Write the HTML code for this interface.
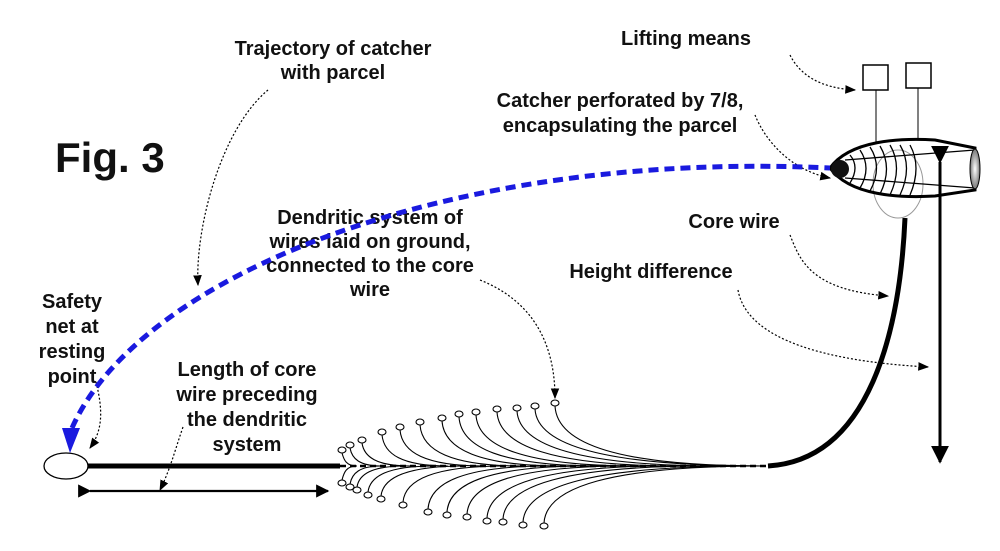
<!DOCTYPE html>
<html><head><meta charset="utf-8"><style>
html,body{margin:0;padding:0;background:#fff}
svg{display:block}
text{font-family:"Liberation Sans",Arial,sans-serif;font-weight:bold;fill:#111}
</style></head><body>
<svg id="s" width="1000" height="551" viewBox="0 0 1000 551" xmlns="http://www.w3.org/2000/svg">
<defs>
<marker id="a" viewBox="0 0 10 10" refX="9" refY="5" markerWidth="6" markerHeight="6" orient="auto"><path d="M0,0L10,5L0,10z" fill="#000"/></marker>
<marker id="b" viewBox="0 0 10 10" refX="9" refY="5" markerWidth="9" markerHeight="9" orient="auto"><path d="M0,1L10,5L0,9z" fill="#000"/></marker>
<radialGradient id="g"><stop offset="0" stop-color="#fff"/><stop offset="1" stop-color="#777"/></radialGradient>
</defs>
<text x="55" y="172" font-size="42">Fig. 3</text>
<g font-size="20" text-anchor="middle">
<text x="333" y="55">Trajectory of catcher</text><text x="333" y="79">with parcel</text>
<text x="686" y="45">Lifting means</text>
<text x="620" y="107">Catcher perforated by 7/8,</text><text x="620" y="132">encapsulating the parcel</text>
<text x="370" y="224">Dendritic system of</text><text x="370" y="248">wires laid on ground,</text><text x="370" y="272">connected to the core</text><text x="370" y="296">wire</text>
<text x="734" y="228">Core wire</text>
<text x="651" y="278">Height difference</text>
<text x="72" y="308">Safety</text><text x="72" y="333">net at</text><text x="72" y="358">resting</text><text x="72" y="383">point</text>
<text x="247" y="376">Length of core</text><text x="247" y="401">wire preceding</text><text x="247" y="426">the dendritic</text><text x="247" y="451">system</text>
</g>
<g fill="none" stroke="#000" stroke-width="1.2" stroke-dasharray="2,2">
<path d="M268,90 C220,130 195,230 198,285" marker-end="url(#b)"/>
<path d="M790,55 C800,75 820,88 855,90" marker-end="url(#b)"/>
<path d="M755,115 C765,140 790,170 830,178" marker-end="url(#b)"/>
<path d="M480,280 C530,300 555,340 555,398" marker-end="url(#b)"/>
<path d="M790,235 C800,260 810,290 888,296" marker-end="url(#b)"/>
<path d="M738,290 C745,330 800,360 928,367" marker-end="url(#b)"/>
<path d="M96,382 C103,410 103,430 90,448" marker-end="url(#b)"/>
<path d="M183,427 C175,450 170,470 160,490" marker-end="url(#b)"/>
</g>
<g id="w" fill="none" stroke="#000" stroke-width="1.1"></g>
<line x1="88" y1="466" x2="340" y2="466" stroke="#000" stroke-width="5"/>
<line x1="340" y1="466" x2="770" y2="466" stroke="#000" stroke-width="2.5" stroke-dasharray="6,4"/>
<path d="M768,466 C870,460 900,330 905,218" fill="none" stroke="#000" stroke-width="5"/>
<ellipse cx="66" cy="466" rx="22" ry="13" fill="#fff" stroke="#000" stroke-width="1.3"/>
<line x1="90" y1="491" x2="328" y2="491" stroke="#000" stroke-width="2.2" marker-start="url(#a)" marker-end="url(#a)"/>
<line x1="940" y1="162" x2="940" y2="462" stroke="#000" stroke-width="3" marker-start="url(#a)" marker-end="url(#a)"/>
<rect x="863" y="65" width="25" height="25" fill="#fff" stroke="#000" stroke-width="1.5"/>
<rect x="906" y="63" width="25" height="25" fill="#fff" stroke="#000" stroke-width="1.5"/>
<line x1="876" y1="90" x2="876" y2="142" stroke="#000"/>
<line x1="918" y1="88" x2="918" y2="140" stroke="#000"/>
<ellipse cx="898" cy="184" rx="25" ry="34" fill="none" stroke="#999"/>
<path d="M830,168 C850,140 900,138 935,140 L975,148 L975,190 L935,196 C900,198 850,196 830,168z" fill="none" stroke="#000" stroke-width="3"/>
<g fill="none" stroke="#000" stroke-width="1.3">
<path d="M850,155 q10,12 0,28"/><path d="M860,150 q12,18 0,38"/><path d="M870,147 q13,20 0,44"/><path d="M880,146 q13,22 0,48"/><path d="M890,145 q13,22 0,50"/><path d="M900,145 q13,22 0,50"/><path d="M910,145 q12,22 0,50"/>
<line x1="845" y1="160" x2="975" y2="150"/><line x1="845" y1="178" x2="975" y2="188"/>
</g>
<ellipse cx="975" cy="169" rx="5" ry="20" fill="url(#g)" stroke="#000"/>
<circle cx="840" cy="169" r="9" fill="#111"/>
<path d="M72,428 C140,275 450,150 830,168" fill="none" stroke="#1a1adf" stroke-width="5" stroke-dasharray="10,6"/>
<path d="M62,428 L80,428 L70,453z" fill="#1a1adf"/>
</svg>
<script>
(function(){
var g=document.getElementById('w'),s='';
var tp=[[342,450],[350,445],[362,440],[382,432],[400,427],[420,422],[442,418],[459,414],[476,412],[497,409],[517,408],[535,406],[555,403]];
var bt=[[342,483],[350,487],[357,490],[368,495],[381,499],[403,505],[428,512],[447,515],[467,517],[487,521],[503,522],[523,525],[544,526]];
function add(p,i,dir){var x=p[0],y=p[1];var mx=x+15+i*16+i*i*0.3;if(mx>765)mx=765;
var c1y=y+(466-y)*0.65;
s+='<path d="M'+x+','+(y+dir*3)+' C'+(x+2)+','+c1y+' '+(x+(mx-x)*0.3)+',466 '+mx+',466"/>';
s+='<ellipse cx="'+x+'" cy="'+y+'" rx="4" ry="3" fill="#fff"/>';}
tp.forEach(function(p,i){add(p,i,1)});bt.forEach(function(p,i){add(p,i,-1)});
g.innerHTML=s;
})();
</script>
</body></html>
